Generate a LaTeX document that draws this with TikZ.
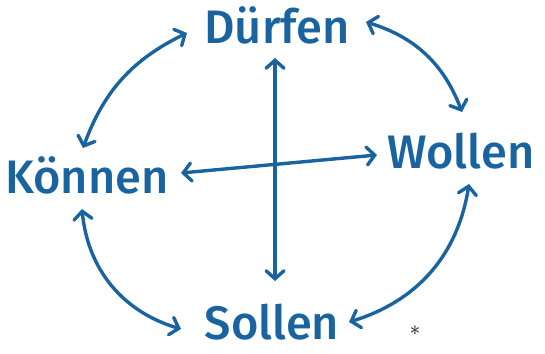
\documentclass[tikz,border=0pt]{standalone}
\usepackage{fontspec}
\setmainfont{Fira Sans}[UprightFont=* Medium, BoldFont=* SemiBold]
\usetikzlibrary{arrows.meta}
\definecolor{mblue}{HTML}{1964A0}
\tikzset{
  word/.style={text=mblue, font=\fontsize{47}{52}\selectfont, inner sep=0pt, anchor=center},
  link/.style={draw=mblue, line width=3.4pt, line cap=round,
    {Straight Barb[length=8pt,width=18pt,line cap=round]}-{Straight Barb[length=8pt,width=18pt,line cap=round]}}
}
\begin{document}
\begin{tikzpicture}[x=1pt,y=-1pt]
\useasboundingbox (0,0) rectangle (545,353);
\node[word] (duerfen) at (277,25) {Dürfen};
\node[word] (koennen) at (87,175) {Können};
\node[word] (wollen) at (461,151) {Wollen};
\node[word] (sollen) at (272,322) {Sollen};
\node[font=\fontsize{22}{22}\selectfont, inner sep=0pt] (star) at (415,331) {$\ast$};
% arrow end points
\coordinate (vt) at (275,58);
\coordinate (vb) at (275,281);
\coordinate (hl) at (181,173);
\coordinate (hr) at (377,155);
\coordinate (tl1) at (83,148);
\coordinate (tl2) at (187,33);
\coordinate (tr1) at (366,22);
\coordinate (tr2) at (462,112);
\coordinate (br1) at (469,184);
\coordinate (br2) at (349,322);
\coordinate (bl1) at (82,209);
\coordinate (bl2) at (181,329);
\draw[link] (vt) -- (vb);
\draw[link] (hl) -- (hr);
\draw[link] (tl1) to[bend left=22] (tl2);
\draw[link] (tr1) to[bend left=26] (tr2);
\draw[link] (br1) to[bend left=32] (br2);
\draw[link] (bl1) to[bend right=34] (bl2);
\end{tikzpicture}
\end{document}
